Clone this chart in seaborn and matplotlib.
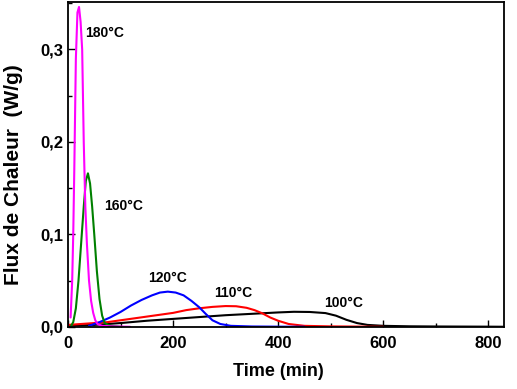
import pandas as pd
import matplotlib
matplotlib.use("Agg")
import matplotlib.pyplot as plt
import seaborn as sns
from matplotlib.ticker import MultipleLocator, FuncFormatter

# Courbes DSC (temps en min, flux en W/g)
t_180 = [5, 8, 10, 12, 15, 18, 21, 24, 27, 30, 33, 36, 40, 44, 48, 52, 56, 65, 80, 100, 118]
q_180 = [0.01, 0.05, 0.10, 0.17, 0.29, 0.34, 0.346, 0.33, 0.30, 0.20, 0.13, 0.09, 0.05,
         0.028, 0.015, 0.007, 0.003, 0.001, 0.0005, 0.0002, 0.0]

t_160 = [5, 10, 15, 20, 25, 30, 34, 38, 42, 46, 50, 55, 60, 65, 70, 80, 100]
q_160 = [0.0, 0.005, 0.02, 0.05, 0.09, 0.13, 0.158, 0.166, 0.155, 0.13, 0.10, 0.06,
         0.03, 0.012, 0.004, 0.001, 0.0]

t_120 = [40, 60, 80, 100, 120, 140, 160, 175, 190, 205, 220, 235, 250, 262, 275, 290,
         310, 350, 400, 450]
q_120 = [0.001, 0.005, 0.010, 0.016, 0.023, 0.029, 0.034, 0.037, 0.038, 0.037, 0.034,
         0.028, 0.021, 0.014, 0.007, 0.003, 0.001, 0.0003, 0.0001, 0.0]

t_110 = [0, 25, 50, 75, 100, 125, 150, 175, 200, 225, 250, 275, 300, 320, 340, 355, 370,
         385, 400, 420, 450, 500, 550, 600]
q_110 = [0.002, 0.003, 0.004, 0.005, 0.007, 0.009, 0.011, 0.013, 0.015, 0.018, 0.020,
         0.0215, 0.0224, 0.0222, 0.0205, 0.018, 0.0145, 0.010, 0.0065, 0.003, 0.001,
         0.0004, 0.0002, 0.0]

t_100 = [0, 50, 100, 150, 200, 250, 300, 350, 400, 430, 460, 490, 510, 530, 550, 570,
         600, 650, 700, 750, 800, 830]
q_100 = [0.001, 0.002, 0.004, 0.0065, 0.0085, 0.0105, 0.0125, 0.014, 0.0155, 0.0162,
         0.016, 0.0148, 0.012, 0.0075, 0.004, 0.002, 0.001, 0.0005, 0.0003, 0.0002,
         0.0001, 0.0]

temps = ["100°C", "110°C", "120°C", "160°C", "180°C"]
colors = {"100°C": "black", "110°C": "#ff0000", "120°C": "#0000ff",
          "160°C": "#008000", "180°C": "#ff00ff"}
# position des étiquettes (min, W/g)
label_x = [524, 314, 190, 105, 70]
label_y = [0.026, 0.037, 0.053, 0.131, 0.318]

curves = {"100°C": (t_100, q_100), "110°C": (t_110, q_110), "120°C": (t_120, q_120),
          "160°C": (t_160, q_160), "180°C": (t_180, q_180)}

frames = []
for name in temps:
    t, q = curves[name]
    frames.append(pd.DataFrame({"Time": t, "Flux": q, "Temp": name}))
df = pd.concat(frames, ignore_index=True)

sns.set_style("ticks")
plt.rcParams["font.family"] = ["Liberation Sans", "DejaVu Sans"]
plt.rcParams["font.weight"] = "bold"
plt.rcParams["text.color"] = "black"
plt.rcParams["axes.labelcolor"] = "black"
plt.rcParams["xtick.color"] = "black"
plt.rcParams["ytick.color"] = "black"

fig = plt.figure(figsize=(5.17, 3.89), dpi=100)
ax = fig.add_axes([0.1315, 0.160, 0.8435, 0.834])

sns.lineplot(data=df, x="Time", y="Flux", hue="Temp", palette=colors,
             hue_order=temps, sort=False, legend=False, linewidth=1.5, ax=ax)

for name, lx, ly in zip(temps, label_x, label_y):
    ax.text(lx, ly, name, ha="center", va="center", fontsize=10, fontweight="bold")

ax.set_xlim(0, 830)
ax.set_ylim(0, 0.351)
ax.xaxis.set_major_locator(MultipleLocator(200))
ax.xaxis.set_minor_locator(MultipleLocator(100))
ax.yaxis.set_major_locator(MultipleLocator(0.1))
ax.yaxis.set_minor_locator(MultipleLocator(0.05))
ax.yaxis.set_major_formatter(FuncFormatter(lambda v, p: f"{v:.1f}".replace(".", ",")))
ax.tick_params(which="major", direction="in", length=5, width=1, labelsize=12)
ax.tick_params(axis="x", which="major", pad=6.5)
ax.tick_params(which="minor", direction="in", length=3, width=1)
for s in ax.spines.values():
    s.set_linewidth(1.3)
    s.set_color("black")

ax.set_xlabel("Time (min)", fontsize=13, fontweight="bold")
ax.set_ylabel("Flux de Chaleur  (W/g)", fontsize=15, fontweight="bold")
ax.xaxis.set_label_coords(0.483, -0.112)
ax.yaxis.set_label_coords(-0.126, 0.468)
ax.yaxis.label.set_va("center")

fig.savefig("out.png", dpi=100)
